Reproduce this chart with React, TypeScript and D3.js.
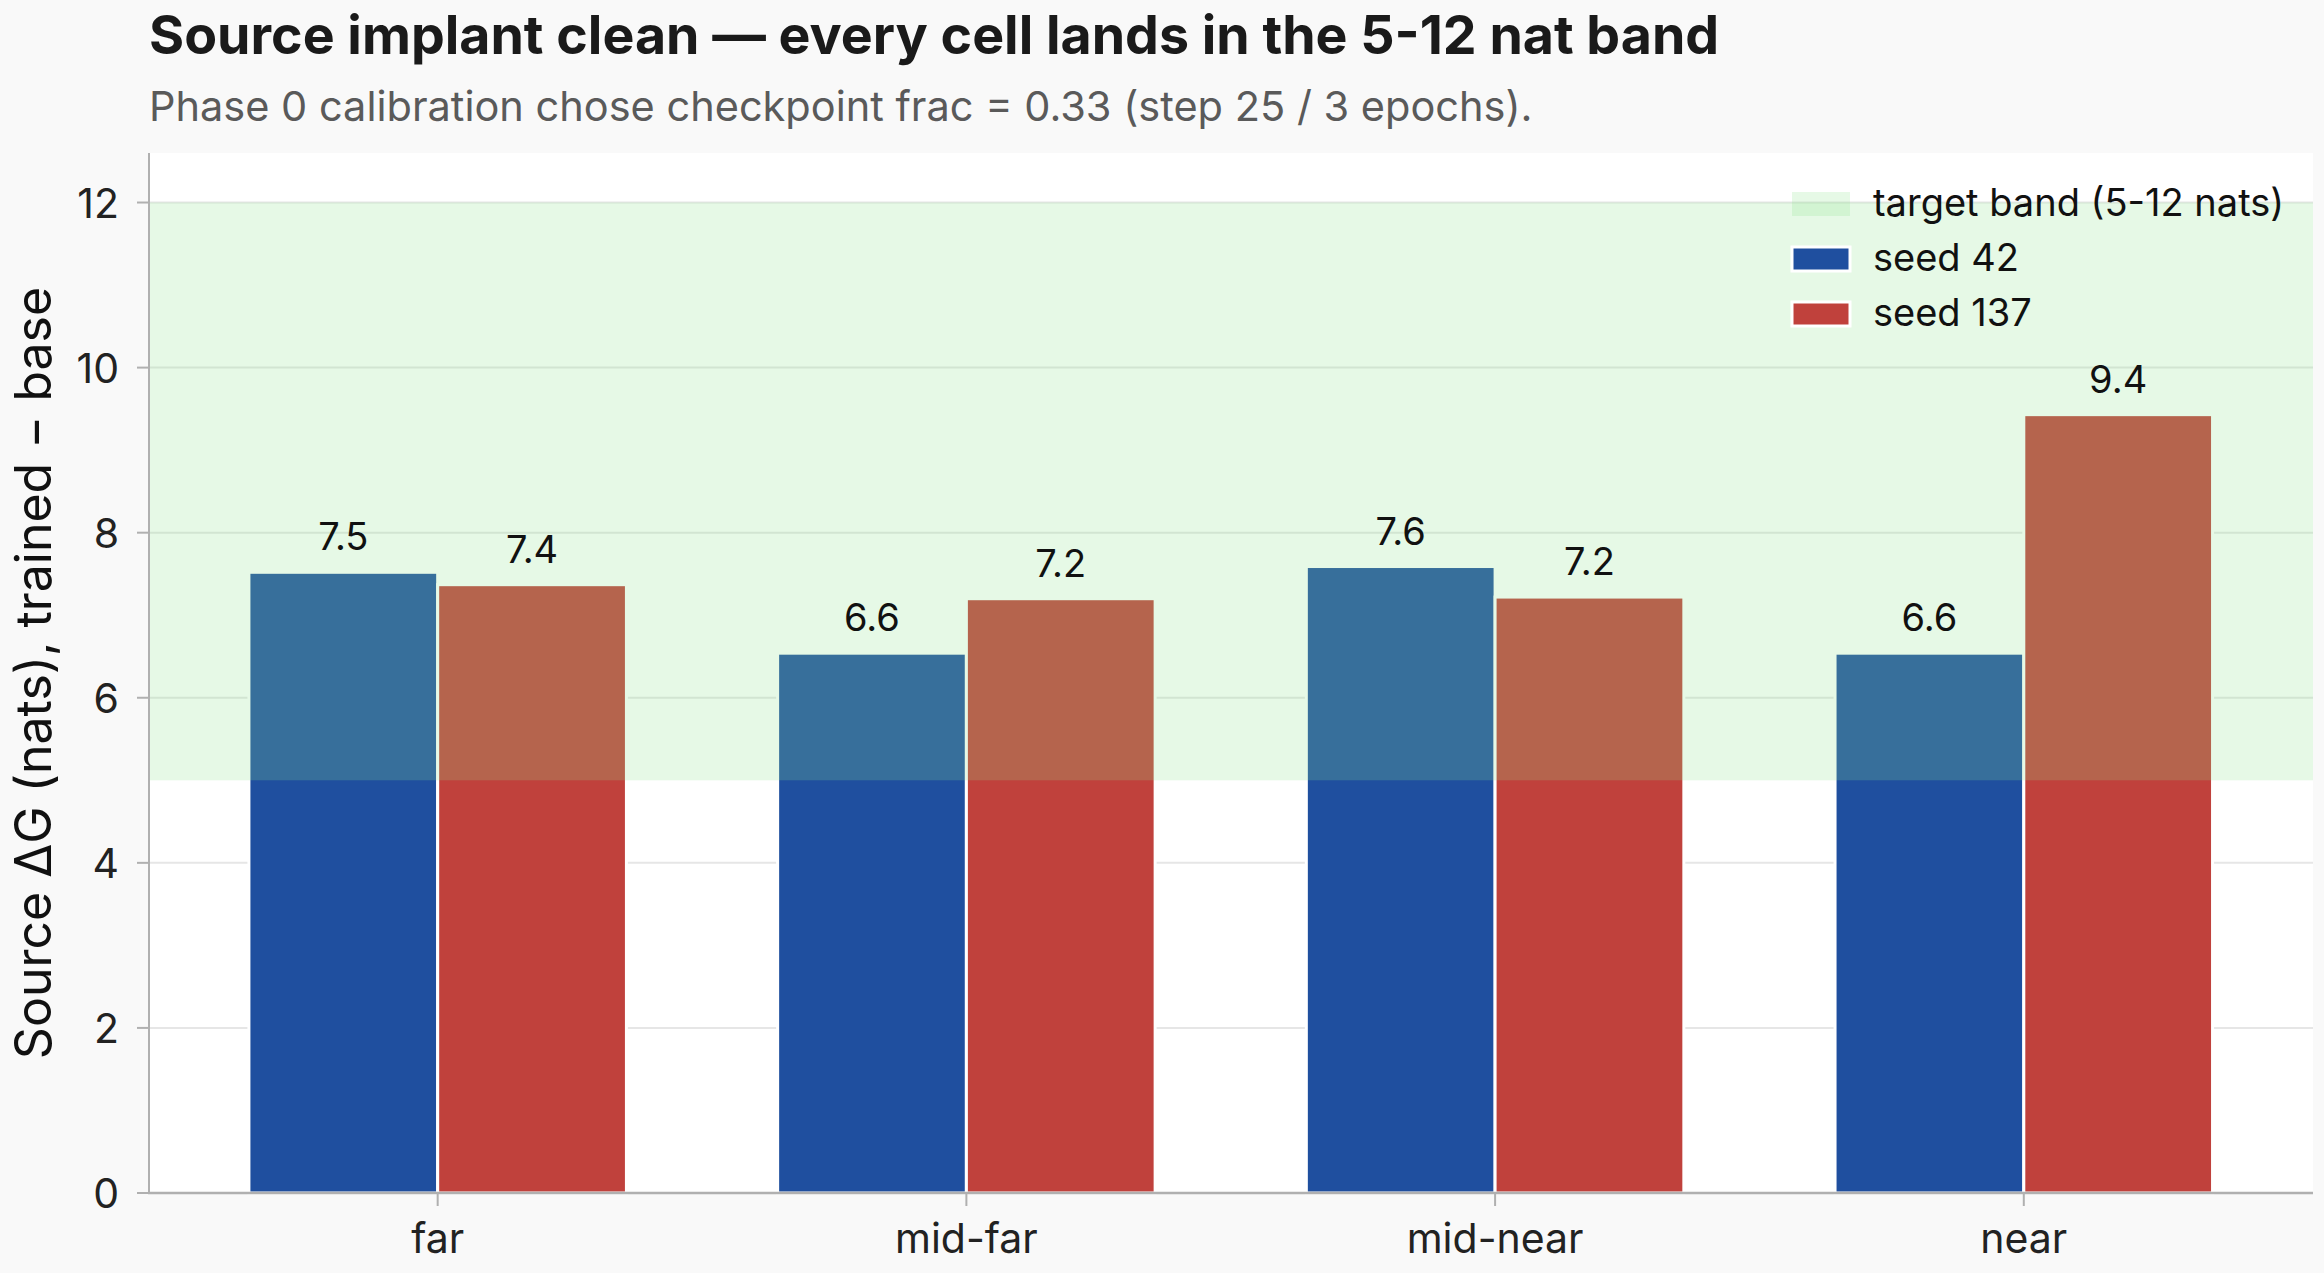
import { useEffect, useRef } from "react";
import * as d3 from "d3";

const categories = ["far", "mid-far", "mid-near", "near"];
const seed42 = [7.52, 6.54, 7.59, 6.54];
const seed137 = [7.37, 7.2, 7.22, 9.43];
const valueLabels42 = ["7.5", "6.6", "7.6", "6.6"];
const valueLabels137 = ["7.4", "7.2", "7.2", "9.4"];
const yTicks = [0, 2, 4, 6, 8, 10, 12];
const band = [5, 12];

const W = 2324;
const H = 1273;
const FONT = "Inter, 'Noto Sans', sans-serif";

export default function App() {
  const ref = useRef(null);

  useEffect(() => {
    const svg = d3.select(ref.current);
    svg.selectAll("*").remove();

    const left = 149, right = 2313, top = 153, bottom = 1193;
    const x = d3.scaleLinear().domain([-0.546, 3.547]).range([left, right]);
    const y = d3.scaleLinear().domain([0, 12.6]).range([bottom, top]);
    const barW = 0.357;

    svg.append("rect").attr("width", W).attr("height", H).attr("fill", "#f9f9f9");
    svg.append("rect")
      .attr("x", left).attr("y", top)
      .attr("width", right - left).attr("height", bottom - top)
      .attr("fill", "#ffffff");

    // grid
    svg.append("g").selectAll("line")
      .data(yTicks.filter(t => t > 0))
      .enter().append("line")
      .attr("x1", left).attr("x2", right)
      .attr("y1", d => y(d)).attr("y2", d => y(d))
      .attr("stroke", "#e6e6e6").attr("stroke-width", 2);

    // bars
    const series = [
      { vals: seed42, labels: valueLabels42, color: "#1f4f9f", off: -barW },
      { vals: seed137, labels: valueLabels137, color: "#c0413c", off: 0 },
    ];
    series.forEach(s => {
      svg.append("g").selectAll("rect")
        .data(s.vals)
        .enter().append("rect")
        .attr("x", (_, i) => x(i + s.off))
        .attr("y", d => y(d))
        .attr("width", x(barW) - x(0))
        .attr("height", d => y(0) - y(d))
        .attr("fill", s.color)
        .attr("stroke", "#ffffff")
        .attr("stroke-width", 3);
    });

    // target band over bars
    svg.append("rect")
      .attr("x", left).attr("width", right - left)
      .attr("y", y(band[1])).attr("height", y(band[0]) - y(band[1]))
      .attr("fill", "rgb(141,228,141)").attr("fill-opacity", 0.22);

    // value labels
    series.forEach(s => {
      svg.append("g").selectAll("text")
        .data(s.vals)
        .enter().append("text")
        .attr("x", (_, i) => x(i + s.off + barW / 2))
        .attr("y", d => y(d) - 22)
        .attr("text-anchor", "middle")
        .attr("font-family", FONT)
        .attr("font-size", 38)
        .attr("fill", "#111")
        .text((_, i) => s.labels[i]);
    });

    // axes
    const axisColor = "#b0b0b0";
    svg.append("line")
      .attr("x1", left).attr("x2", left).attr("y1", top).attr("y2", bottom + 1)
      .attr("stroke", axisColor).attr("stroke-width", 2);
    svg.append("line")
      .attr("x1", left - 1).attr("x2", right).attr("y1", bottom).attr("y2", bottom)
      .attr("stroke", axisColor).attr("stroke-width", 2.5);

    const yt = svg.append("g");
    yTicks.forEach(t => {
      yt.append("line")
        .attr("x1", left - 12).attr("x2", left).attr("y1", y(t)).attr("y2", y(t))
        .attr("stroke", axisColor).attr("stroke-width", 2);
      yt.append("text")
        .attr("x", left - 30).attr("y", y(t) + 15)
        .attr("text-anchor", "end")
        .attr("font-family", FONT).attr("font-size", 41).attr("fill", "#222")
        .text(t);
    });

    const xt = svg.append("g");
    categories.forEach((c, i) => {
      xt.append("line")
        .attr("x1", x(i)).attr("x2", x(i)).attr("y1", bottom).attr("y2", bottom + 13)
        .attr("stroke", axisColor).attr("stroke-width", 2);
      xt.append("text")
        .attr("x", x(i)).attr("y", 1253)
        .attr("text-anchor", "middle")
        .attr("font-family", FONT).attr("font-size", 41).attr("fill", "#222")
        .text(c);
    });

    // y label
    svg.append("text")
      .attr("transform", `translate(51,${(top + bottom) / 2}) rotate(-90)`)
      .attr("text-anchor", "middle")
      .attr("font-family", FONT).attr("font-size", 50).attr("fill", "#111")
      .text("Source ΔG (nats), trained − base");

    // title + subtitle
    svg.append("text")
      .attr("x", 149).attr("y", 54)
      .attr("font-family", FONT).attr("font-size", 53.7).attr("font-weight", 700)
      .attr("fill", "#1a1a1a")
      .text("Source implant clean — every cell lands in the 5-12 nat band");
    svg.append("text")
      .attr("x", 149).attr("y", 121)
      .attr("font-family", FONT).attr("font-size", 41.5)
      .attr("fill", "#5a5a5a")
      .text("Phase 0 calibration chose checkpoint frac = 0.33 (step 25 / 3 epochs).");

    // legend
    const legend = [
      { label: "target band (5-12 nats)", fill: "rgb(141,228,141)", op: 0.22, stroke: "none" },
      { label: "seed 42", fill: "#1f4f9f", op: 1, stroke: "#ffffff" },
      { label: "seed 137", fill: "#c0413c", op: 1, stroke: "#ffffff" },
    ];
    const lg = svg.append("g");
    legend.forEach((l, i) => {
      const cy = 204 + i * 55;
      lg.append("rect")
        .attr("x", 1792).attr("y", cy - 12).attr("width", 58).attr("height", 24)
        .attr("fill", l.fill).attr("fill-opacity", l.op)
        .attr("stroke", l.stroke).attr("stroke-width", 3);
      lg.append("text")
        .attr("x", 1873).attr("y", cy + 12)
        .attr("font-family", FONT).attr("font-size", 38).attr("fill", "#111")
        .text(l.label);
    });
  }, []);

  return (
    <svg
      ref={ref}
      width={W}
      height={H}
      style={{ position: "absolute", left: 0, top: 0, display: "block" }}
    />
  );
}
